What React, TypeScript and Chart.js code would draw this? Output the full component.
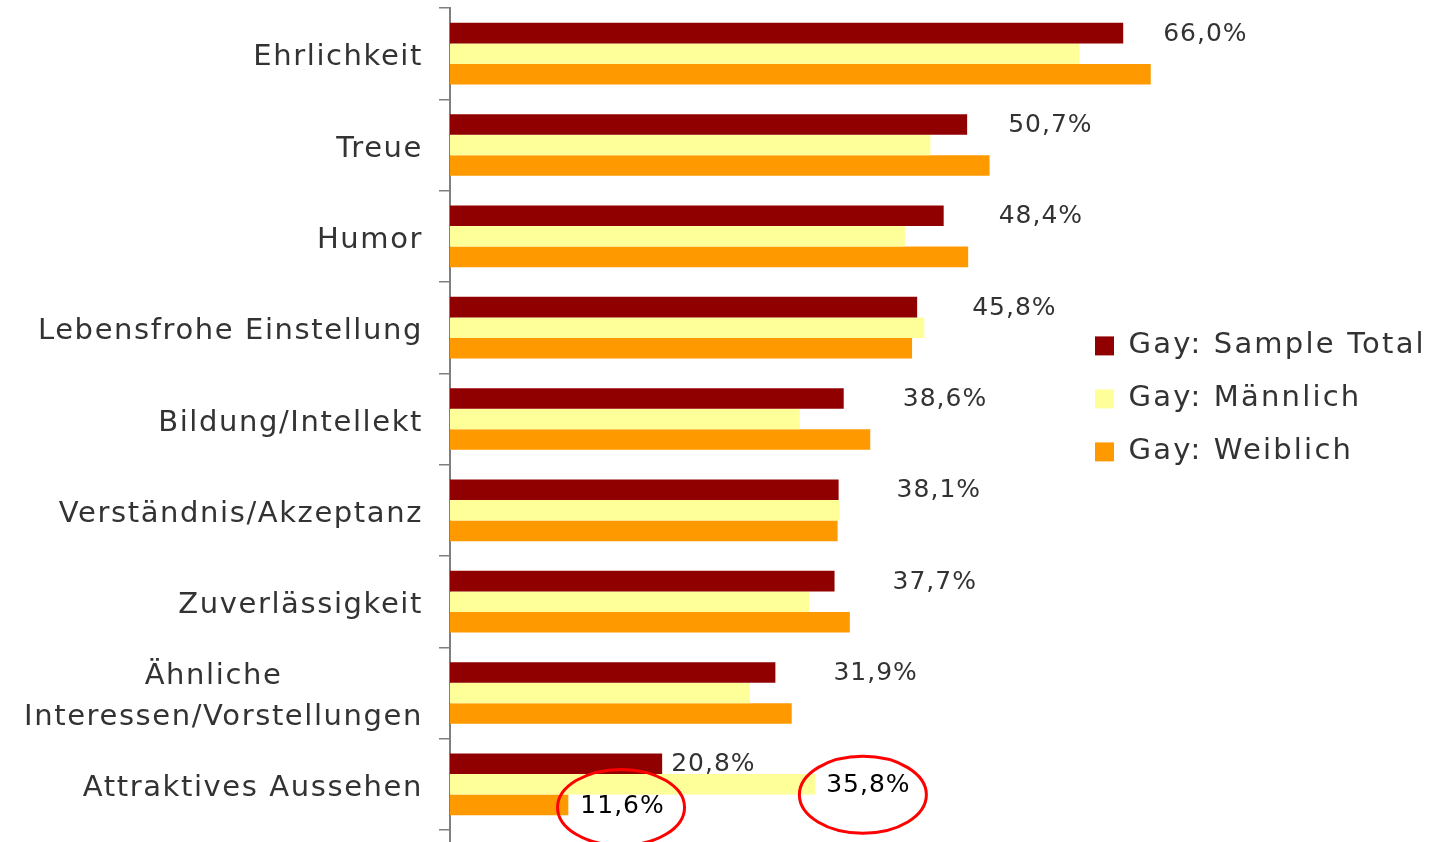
import React, { useEffect, useRef } from 'react';
import { Chart, registerables } from 'chart.js';

Chart.register(...registerables);

// ---------- data ----------
const categories: (string | string[])[] = [
  'Ehrlichkeit',
  'Treue',
  'Humor',
  'Lebensfrohe Einstellung',
  'Bildung/Intellekt',
  'Verständnis/Akzeptanz',
  'Zuverlässigkeit',
  ['Ähnliche' + ' '.repeat(13), 'Interessen/Vorstellungen'],
  'Attraktives Aussehen',
];
const seriesNames = ['Gay: Sample Total', 'Gay: Männlich', 'Gay: Weiblich'];
const totalValues = [66.0, 50.7, 48.4, 45.8, 38.6, 38.1, 37.7, 31.9, 20.8];
const maleValues = [61.7, 47.1, 44.6, 46.5, 34.3, 38.2, 35.2, 29.4, 35.8];
const femaleValues = [68.7, 52.9, 50.8, 45.3, 41.2, 38.0, 39.2, 33.5, 11.6];

// ---------- style ----------
const COLORS = ['#900000', '#FFFF99', '#FF9900'];
const TEXT = '#333333';
const AXIS = '#7f7f7f';
const FONT = '"DejaVu Sans", Verdana, sans-serif';
const PX_PER_PCT = 10.2;
const LEGEND_SPACING = '2.2px';
const TICK_SPACING = '1.6px';
const VALUE_SPACING = '1px';
const TOTAL_LABEL_OFFSETS = [40, 41, 55, 55, 59, 58, 58, 58, 9];
// highlighted labels (dataset index, category index, label offset, ellipse geometry)
const HIGHLIGHTS = [
  { ds: 2, idx: 8, off: 12, dx: -1.5, dy: 1, rx: 63.5, ry: 38 },
  { ds: 1, idx: 8, off: 11, dx: -5.5, dy: 9, rx: 63.5, ry: 38.5 },
];

const fmt = (v: number) => v.toFixed(1).replace('.', ',') + '%';

const spacingPlugin = {
  id: 'letterSpacing',
  beforeUpdate(chart: any) {
    chart.ctx.letterSpacing = LEGEND_SPACING;
  },
  afterLayout(chart: any) {
    // fixed pixel-per-percent scale, as in the original
    const xs = chart.scales.x;
    xs.max = xs.width / PX_PER_PCT;
    xs.configure();
  },
  beforeDraw(chart: any) {
    chart.ctx.letterSpacing = LEGEND_SPACING;
  },
  afterDatasetsDraw(chart: any) {
    chart.ctx.letterSpacing = TICK_SPACING;
  },
};

const annotationPlugin = {
  id: 'valueLabels',
  afterDraw(chart: any) {
    const ctx = chart.ctx;
    const xs = chart.scales.x;
    const ys = chart.scales.y;
    ctx.save();
    ctx.letterSpacing = VALUE_SPACING;
    // axis line continues to the bottom edge
    ctx.strokeStyle = AXIS;
    ctx.lineWidth = 2;
    ctx.beginPath();
    ctx.moveTo(ys.right, chart.chartArea.bottom);
    ctx.lineTo(ys.right, chart.height);
    ctx.stroke();

    ctx.font = `25px ${FONT}`;
    ctx.textBaseline = 'middle';
    ctx.textAlign = 'left';
    ctx.fillStyle = TEXT;
    const m0 = chart.getDatasetMeta(0);
    totalValues.forEach((v, i) => {
      const bar = m0.data[i];
      ctx.fillText(fmt(v), xs.getPixelForValue(v) + TOTAL_LABEL_OFFSETS[i], bar.y + 1);
    });
    const seriesData = [totalValues, maleValues, femaleValues];
    HIGHLIGHTS.forEach((h) => {
      const v = seriesData[h.ds][h.idx];
      const bar = chart.getDatasetMeta(h.ds).data[h.idx];
      const tx = xs.getPixelForValue(v) + h.off;
      const ty = bar.y + 1.5;
      const txt = fmt(v);
      ctx.fillStyle = '#000000';
      ctx.fillText(txt, tx, ty);
      const w = ctx.measureText(txt).width;
      ctx.strokeStyle = '#FF0000';
      ctx.lineWidth = 3;
      ctx.beginPath();
      ctx.ellipse(tx + w / 2 + h.dx, ty + h.dy, h.rx, h.ry, 0, 0, Math.PI * 2);
      ctx.stroke();
    });
    ctx.restore();
  },
};

export default function App() {
  const ref = useRef<HTMLCanvasElement | null>(null);

  useEffect(() => {
    document.body.style.margin = '0';
    if (!ref.current) return;
    const chart = new Chart(ref.current, {
      type: 'bar',
      data: {
        labels: categories as any,
        datasets: [totalValues, maleValues, femaleValues].map((d, i) => ({
          label: seriesNames[i],
          data: d,
          backgroundColor: COLORS[i],
          borderWidth: 0,
          categoryPercentage: 0.676,
          barPercentage: 1.0,
          clip: false as any,
        })),
      },
      options: {
        indexAxis: 'y',
        responsive: false,
        animation: false,
        devicePixelRatio: 1,
        layout: { padding: { top: 8, bottom: 12, left: 0, right: 10 } },
        scales: {
          x: {
            display: false,
            min: 0,
            max: 61,
          },
          y: {
            type: 'category',
            position: 'left',
            afterFit: (s: any) => {
              s.width = 450;
              s.paddingTop = 0;
              s.paddingBottom = 0;
            },
            grid: {
              display: true,
              drawOnChartArea: false,
              drawTicks: true,
              tickLength: 11,
              offset: true,
              color: AXIS,
              lineWidth: 1.5,
            },
            border: { display: true, color: AXIS, width: 2 },
            ticks: {
              z: 1,
              autoSkip: false,
              padding: 16,
              labelOffset: 4,
              color: TEXT,
              font: { family: FONT, size: 29, lineHeight: 1.39 },
            },
          },
        },
        plugins: {
          legend: {
            position: 'right',
            align: 'start',
            title: { display: true, text: '', padding: { top: 0, bottom: 285 } },
            labels: {
              boxWidth: 19,
              boxHeight: 19,
              padding: 24,
              color: TEXT,
              font: { family: FONT, size: 29 },
            },
          },
          tooltip: { enabled: false },
        },
      },
      plugins: [spacingPlugin, annotationPlugin],
    } as any);
    return () => chart.destroy();
  }, []);

  return (
    <div style={{ width: 1438, height: 842 }}>
      <canvas ref={ref} width={1438} height={842} style={{ display: 'block' }} />
    </div>
  );
}
